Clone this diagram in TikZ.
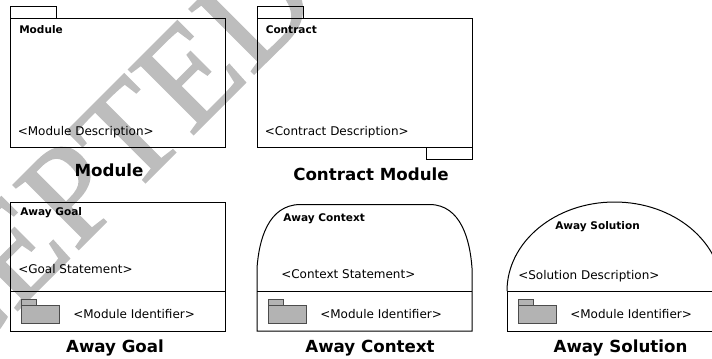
\documentclass[tikz,border=0pt]{standalone}
\usepackage{fontspec}
\setmainfont{DejaVu Sans}
\newfontfamily\stampfont[FakeBold=1.2]{Liberation Serif}
\definecolor{stampgray}{HTML}{BDBDBD}
\definecolor{foldergray}{HTML}{B3B3B3}
\tikzset{
  title/.style={font=\bfseries\fontsize{12.5}{14}\selectfont},
  head/.style={anchor=west,inner sep=0pt,font=\bfseries\fontsize{7.9}{9}\selectfont},
  desc/.style={anchor=west,inner sep=0pt,font=\fontsize{9}{10}\selectfont},
  folder/.style={draw=black!70,fill=foldergray,line width=0.5pt},
  box/.style={line width=0.75pt}
}
\begin{document}
\begin{tikzpicture}[x=0.75pt,y=-0.75pt]
\useasboundingbox (0,0) rectangle (712,358);
\clip (0,0) rectangle (712,358);
\node[rotate=45,anchor=base,inner sep=0pt,text=stampgray,font=\stampfont\fontsize{105}{105}\selectfont] (stamp) at (67,261) {ACCEPTED};
% module
\draw[box] (10.5,18) rectangle (225.5,147);
\draw[box] (10.5,18)--(10.5,6.5)--(56.5,6.5)--(56.5,18);
\node[head] (modhead) at (19,30) {Module};
\node[desc] (moddesc) at (17.5,132) {<Module Description>};
\node[title] (modtitle) at (109,170) {Module};
% contract
\draw[box] (257,18) rectangle (472,147);
\draw[box] (257,18)--(257,6.5)--(303,6.5)--(303,18);
\draw[box] (426,147)--(426,159)--(472,159)--(472,147);
\node[head] (conhead) at (265.5,30) {Contract};
\node[desc] (condesc) at (264.5,132) {<Contract Description>};
\node[title] (contitle) at (371,174) {Contract Module};
% away goal
\draw[box] (10.5,202) rectangle (225.5,331);
\draw[box] (10.5,291)--(225.5,291);
\draw[folder] (21.5,299) rectangle (36.5,305);
\draw[folder] (21.5,305) rectangle (59.5,323.5);
\node[head] (goalhead) at (20,213) {Away Goal};
\node[desc] (goaldesc) at (18,269) {<Goal Statement>};
\node[desc] (goalid) at (73,314) {<Module Identifier>};
\node[title] (goaltitle) at (115,348) {Away Goal};
% away context
\draw[box] (257,291)--(257,268) .. controls (259,240) and (268,205) .. (300,204.5)--(430,204.5)
  .. controls (461,205) and (470,240) .. (472,268)--(472,331)--(257,331)--cycle;
\draw[box] (257,291)--(472,291);
\draw[folder] (268,299) rectangle (283,305);
\draw[folder] (268,305) rectangle (306.5,323.5);
\node[head] (ctxhead) at (283,219) {Away Context};
\node[desc] (ctxdesc) at (281,274) {<Context Statement>};
\node[desc] (ctxid) at (320,314) {<Module Identifier>};
\node[title] (ctxtitle) at (370,348) {Away Context};
% away solution
\draw[box] (507,291) arc[start angle=180,end angle=0,x radius=107.5,y radius=-89];
\draw[box] (507,291)--(507,331)--(722,331)--(722,291)--cycle;
\draw[folder] (518,299) rectangle (533,305);
\draw[folder] (518,305) rectangle (556.5,323.5);
\node[head] (solhead) at (555,227) {Away Solution};
\node[desc] (soldesc) at (518,276) {<Solution Description>};
\node[desc] (solid) at (570,314) {<Module Identifier>};
\node[title] (soltitle) at (620.5,348) {Away Solution};
\end{tikzpicture}
\end{document}
